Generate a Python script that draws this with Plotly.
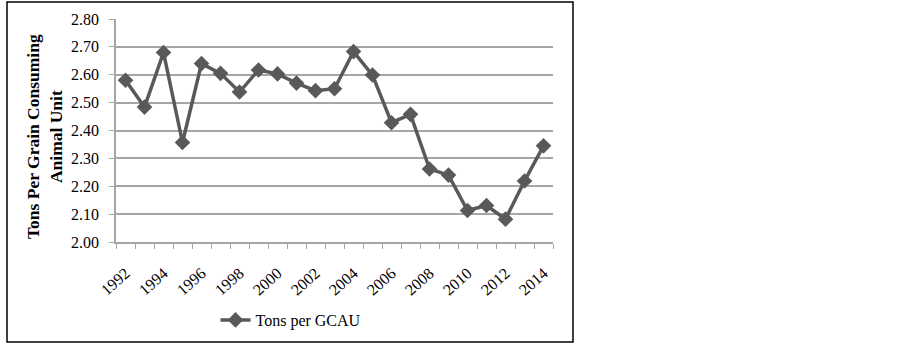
import plotly.graph_objects as go

years = list(range(1992, 2015))
tons_per_gcau = [2.58, 2.484, 2.68, 2.357, 2.64, 2.605, 2.538, 2.617, 2.603, 2.57,
                 2.543, 2.55, 2.683, 2.599, 2.428, 2.458, 2.262, 2.24, 2.113, 2.131,
                 2.082, 2.219, 2.345]
tick_years = list(range(1992, 2015, 2))
series_name = "Tons per GCAU"
y_title = "<b>Tons Per Grain Consuming<br>Animal Unit</b>"

W, H = 903, 346
L, T = 116, 19
R = W - 553
B = H - 242
pw, ph = W - L - R, H - T - B

def px_x(v):
    return (v - L) / pw

def px_y(v):
    return (H - B - v) / ph

FAM = "Liberation Serif, Times New Roman, serif"
font = dict(family=FAM, size=16, color="#000000")

fig = go.Figure()
fig.add_trace(go.Scatter(
    x=years, y=tons_per_gcau, mode="lines+markers", name=series_name,
    line=dict(color="#595959", width=3.5),
    marker=dict(symbol="diamond", size=12, color="#595959"),
))

fig.update_layout(
    width=W, height=H,
    margin=dict(l=L, r=R, t=T, b=B, autoexpand=False),
    paper_bgcolor="white", plot_bgcolor="white",
    font=font,
    showlegend=True,
    legend=dict(orientation="h", x=px_x(291), xanchor="center", y=px_y(320), yanchor="middle",
                font=dict(family=FAM, size=16), bgcolor="rgba(0,0,0,0)", itemwidth=30),
    xaxis=dict(
        range=[1991.5, 2014.5], tickvals=tick_years, ticktext=[str(y) for y in tick_years],
        tickangle=-42, ticks="", showgrid=False, zeroline=False, automargin=False,
        showline=True, linecolor="#a6a6a6", linewidth=1.5,
        tickfont=dict(family=FAM, size=16), ticklabelstandoff=14,
        minor=dict(tick0=1991.5, dtick=1, ticks="outside", ticklen=5, tickcolor="#a6a6a6",
                   tickwidth=1, showgrid=False),
    ),
    yaxis=dict(
        range=[2.0, 2.8], dtick=0.1, tickformat=".2f", showgrid=True,
        gridcolor="#a6a6a6", gridwidth=1.5, zeroline=False, automargin=False,
        showline=True, linecolor="#a6a6a6", linewidth=1.5,
        ticks="outside", ticklen=5, tickcolor="#a6a6a6",
        tickfont=dict(family=FAM, size=16), ticklabelstandoff=7,
    ),
    annotations=[dict(text=y_title, xref="paper", yref="paper", x=px_x(44), y=px_y(137),
                      xanchor="center", yanchor="middle", textangle=-90, showarrow=False,
                      font=dict(family=FAM, size=17.5))],
    shapes=[dict(type="rect", xref="paper", yref="paper",
                 x0=px_x(7), x1=px_x(573), y0=px_y(342), y1=px_y(2),
                 line=dict(color="#000000", width=1.5), fillcolor="rgba(0,0,0,0)")],
)

fig.write_html("out.html", config={"displayModeBar": False},
               post_script="document.body.style.margin='0px';")
